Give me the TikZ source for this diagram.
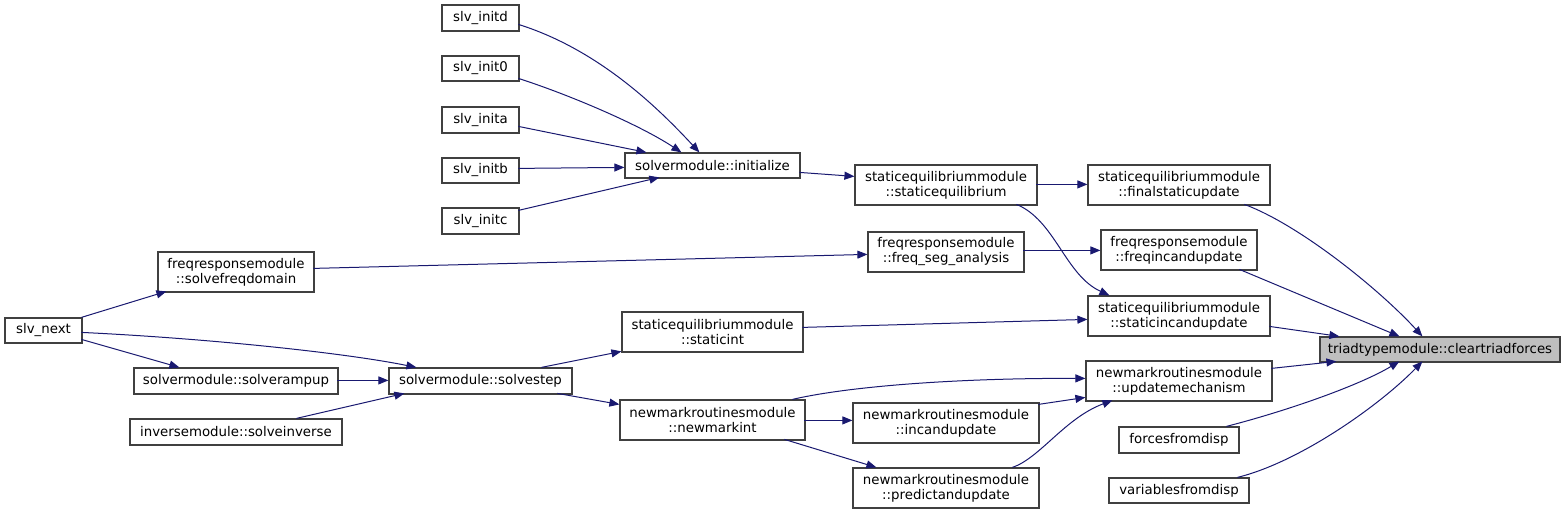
\documentclass[tikz,border=0pt]{standalone}
\usepackage{fontspec}
\setmainfont{DejaVu Sans}
\usetikzlibrary{arrows.meta}
\definecolor{edgec}{HTML}{191970}
\definecolor{boxc}{HTML}{404040}
\definecolor{rootfill}{HTML}{BFBFBF}
\newcommand\bx[7][]{\node[box,#1,minimum width={(#5-#3)*0.75pt},minimum height={(#6-#4)*0.75pt}] (#2) at ({(#3+#5)/2},{(#4+#6)/2}) {#7};}
\begin{document}
\begin{tikzpicture}[x=0.75pt,y=-0.75pt,
  box/.style={draw=boxc,line width=0.9pt,fill=white,inner sep=0pt,align=center,font=\fontsize{10}{11.25}\selectfont},
  e/.style={draw=edgec,line width=0.75pt,-{Triangle[length=7.5pt,width=6pt]}}]
\useasboundingbox (0,0) rectangle (1565,514);
\bx{initd}{442}{5}{519}{31}{slv\_initd}
\bx{init0}{442}{56}{519}{81}{slv\_init0}
\bx{inita}{442}{107}{519}{133}{slv\_inita}
\bx{initb}{442}{158}{519}{183}{slv\_initb}
\bx{initc}{442}{208}{519}{234}{slv\_initc}
\bx{init}{625}{153}{800}{178}{solvermodule::initialize}
\bx{steq}{855}{165}{1037}{205}{staticequilibriummodule\\::staticequilibrium}
\bx{final}{1088}{165}{1270}{205}{staticequilibriummodule\\::finalstaticupdate}
\bx{fseg}{868}{232}{1024}{272}{freqresponsemodule\\::freq\_seg\_analysis}
\bx{finc}{1101}{230}{1257}{270}{freqresponsemodule\\::freqincandupdate}
\bx{sinc}{1088}{296}{1270}{336}{staticequilibriummodule\\::staticincandupdate}
\bx{upd}{1086}{361}{1272}{401}{newmarkroutinesmodule\\::updatemechanism}
\bx{inc}{853}{403}{1039}{443}{newmarkroutinesmodule\\::incandupdate}
\bx{forces}{1119}{427}{1239}{453}{forcesfromdisp}
\bx{pred}{853}{468}{1039}{508}{newmarkroutinesmodule\\::predictandupdate}
\bx{vars}{1109}{478}{1249}{503}{variablesfromdisp}
\bx[fill=rootfill]{clear}{1320}{337}{1560}{362}{triadtypemodule::cleartriadforces}
\bx{sint}{622}{312}{803}{352}{staticequilibriummodule\\::staticint}
\bx{step}{389}{368}{572}{394}{solvermodule::solvestep}
\bx{nmk}{620}{400}{805}{440}{newmarkroutinesmodule\\::newmarkint}
\bx{sfd}{158}{252}{314}{292}{freqresponsemodule\\::solvefreqdomain}
\bx{next}{5}{318}{82}{343}{slv\_next}
\bx{ramp}{134}{368}{338}{394}{solvermodule::solverampup}
\bx{inv}{130}{419}{342}{445}{inversemodule::solveinverse}
% edges
\draw[e] ([shift={(77,20)}]initd.north west) .. controls (600,50) and (660,110) .. ([shift={(75,0)}]init.north west);
\draw[e] ([shift={(77,23)}]init0.north west) .. controls (570,95) and (640,125) .. ([shift={(57,0)}]init.north west);
\draw[e] ([shift={(77,20)}]inita.north west) -- ([shift={(22,0)}]init.north west);
\draw[e] ([shift={(77,11)}]initb.north west) -- ([shift={(0,15)}]init.north west);
\draw[e] ([shift={(77,3)}]initc.north west) -- ([shift={(35,25)}]init.north west);
\draw[e] ([shift={(175,20)}]init.north west) -- ([shift={(0,12)}]steq.north west);
\draw[e] ([shift={(182,20)}]steq.north west) -- ([shift={(0,20)}]final.north west);
\draw[e] ([shift={(162,40)}]steq.north west) .. controls (1055,220) and (1065,275) .. ([shift={(22,0)}]sinc.north west);
\draw[e] ([shift={(156,19)}]fseg.north west) -- ([shift={(0,21)}]finc.north west);
\draw[e] ([shift={(156,17)}]sfd.north west) -- ([shift={(0,23)}]fseg.north west);
\draw[e] ([shift={(77,0)}]next.north west) -- ([shift={(9,40)}]sfd.north west);
\draw[e] ([shift={(77,15)}]next.north west) .. controls (200,338) and (340,352) .. ([shift={(28,0)}]step.north west);
\draw[e] ([shift={(77,22)}]next.north west) -- ([shift={(46,0)}]ramp.north west);
\draw[e] ([shift={(204,13)}]ramp.north west) -- ([shift={(0,13)}]step.north west);
\draw[e] ([shift={(167,0)}]inv.north west) -- ([shift={(16,26)}]step.north west);
\draw[e] ([shift={(153,0)}]step.north west) -- ([shift={(0,40)}]sint.north west);
\draw[e] ([shift={(169,26)}]step.north west) -- ([shift={(0,5)}]nmk.north west);
\draw[e] ([shift={(181,16)}]sint.north west) -- ([shift={(0,24)}]sinc.north west);
\draw[e] ([shift={(173,0)}]nmk.north west) .. controls (850,386) and (960,378) .. ([shift={(0,18)}]upd.north west);
\draw[e] ([shift={(185,21)}]nmk.north west) -- ([shift={(0,18)}]inc.north west);
\draw[e] ([shift={(165,40)}]nmk.north west) -- ([shift={(24,0)}]pred.north west);
\draw[e] ([shift={(186,2)}]inc.north west) -- ([shift={(0,37)}]upd.north west);
\draw[e] ([shift={(160,0)}]pred.north west) .. controls (1040,458) and (1065,418) .. ([shift={(27,40)}]upd.north west);
\draw[e] ([shift={(157,40)}]final.north west) .. controls (1300,225) and (1380,290) .. ([shift={(103,0)}]clear.north west);
\draw[e] ([shift={(139,40)}]finc.north west) -- ([shift={(80,0)}]clear.north west);
\draw[e] ([shift={(182,31)}]sinc.north west) -- ([shift={(20,0)}]clear.north west);
\draw[e] ([shift={(186,8)}]upd.north west) -- ([shift={(17,25)}]clear.north west);
\draw[e] ([shift={(108,0)}]forces.north west) .. controls (1290,410) and (1360,385) .. ([shift={(80,25)}]clear.north west);
\draw[e] ([shift={(129,0)}]vars.north west) .. controls (1300,462) and (1380,405) .. ([shift={(103,25)}]clear.north west);
\end{tikzpicture}
\end{document}
